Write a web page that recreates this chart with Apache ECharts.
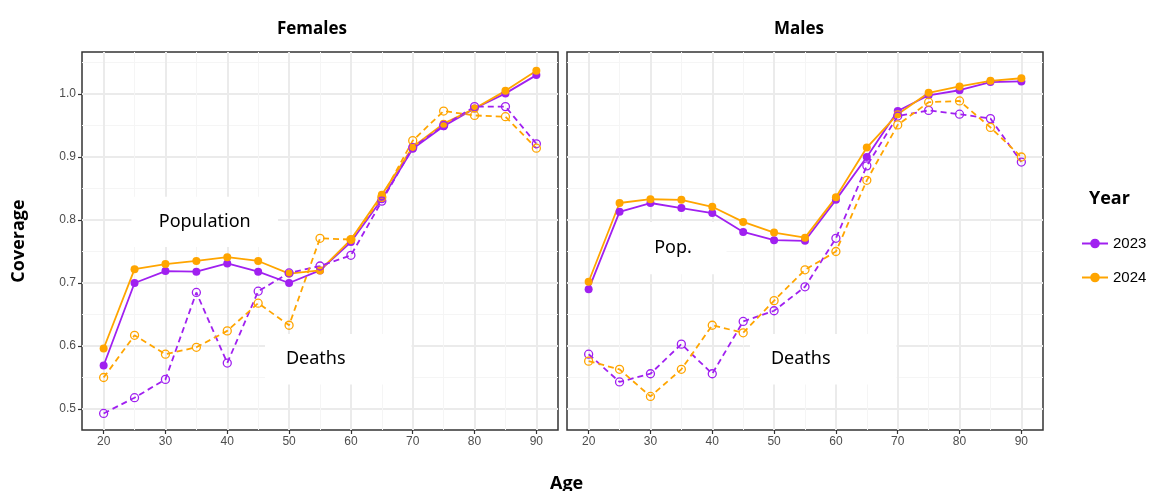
<!DOCTYPE html>
<html>
<head>
<meta charset="utf-8">
<script src="https://cdn.jsdelivr.net/npm/echarts@6/dist/echarts.min.js"></script>
<style>
  html, body { margin: 0; padding: 0; background: #ffffff; }
  #chart { width: 1150px; height: 491px; }
</style>
</head>
<body>
<div id="chart"></div>
<script>
// 数据
const ages = [20, 25, 30, 35, 40, 45, 50, 55, 60, 65, 70, 75, 80, 85, 90]
const xMajorTicks = [20, 30, 40, 50, 60, 70, 80, 90]
const xMinorTicks = [25, 35, 45, 55, 65, 75, 85]
const yMajorTicks = [0.5, 0.6, 0.7, 0.8, 0.9, 1.0]
const yMinorTicks = [0.55, 0.65, 0.75, 0.85, 0.95, 1.05]

const femPop2023 = [0.569, 0.700, 0.719, 0.718, 0.731, 0.718, 0.700, 0.720, 0.765, 0.833, 0.913, 0.949, 0.977, 1.001, 1.030]
const femPop2024 = [0.596, 0.722, 0.730, 0.735, 0.741, 0.735, 0.715, 0.720, 0.769, 0.840, 0.916, 0.953, 0.977, 1.005, 1.037]
const femDeaths2023 = [0.493, 0.518, 0.547, 0.685, 0.573, 0.687, 0.716, 0.727, 0.744, 0.830, 0.915, 0.950, 0.980, 0.980, 0.921]
const femDeaths2024 = [0.550, 0.617, 0.587, 0.598, 0.624, 0.668, 0.633, 0.771, 0.769, 0.836, 0.926, 0.973, 0.966, 0.964, 0.914]

const malePop2023 = [0.690, 0.813, 0.827, 0.819, 0.811, 0.781, 0.768, 0.767, 0.832, 0.900, 0.973, 0.998, 1.006, 1.019, 1.020]
const malePop2024 = [0.702, 0.827, 0.833, 0.832, 0.821, 0.797, 0.780, 0.772, 0.836, 0.915, 0.968, 1.002, 1.012, 1.021, 1.025]
const maleDeaths2023 = [0.587, 0.543, 0.556, 0.603, 0.556, 0.639, 0.656, 0.694, 0.771, 0.886, 0.965, 0.974, 0.968, 0.961, 0.892]
const maleDeaths2024 = [0.576, 0.563, 0.520, 0.563, 0.633, 0.621, 0.672, 0.721, 0.750, 0.863, 0.951, 0.987, 0.989, 0.947, 0.900]

// 标注框 [x0, y0, x1, y1]（数据坐标）
const femLabels = [
  { text: 'Population', box: [24.5, 0.837, 48.2, 0.757], centered: true },
  { text: 'Deaths', box: [46.1, 0.619, 69.8, 0.539], centered: false },
]
const maleLabels = [
  { text: 'Pop.', box: [25.0, 0.797, 42.3, 0.714], centered: true },
  { text: 'Deaths', box: [46.1, 0.619, 69.8, 0.539], centered: false },
]

// 颜色
const COLORS = {
  y2023: '#a020f0',
  y2024: '#ffa500',
  major: '#ebebeb',
  minor: '#f5f5f5',
  border: '#333333',
  axisText: '#4d4d4d',
  text: '#000000',
}

const X_MIN = 16.5
const X_MAX = 93.5
const Y_MIN = 0.4667
const Y_MAX = 1.0667

const zip = (vals) => ages.map((a, i) => [a, vals[i]])

const boldText = (size) => ({ fontFamily: 'Open Sans', fontWeight: 'bold', fontSize: size, color: COLORS.text })

const makeXAxes = (gridIndex) => [
  {
    type: 'value', gridIndex, min: X_MIN, max: X_MAX,
    axisLine: { show: false },
    axisTick: { show: true, customValues: xMajorTicks, length: 4, lineStyle: { color: COLORS.border, width: 1.2 } },
    axisLabel: { customValues: xMajorTicks, color: COLORS.axisText, fontFamily: 'Liberation Sans', fontSize: 12, margin: 6 },
    splitLine: { show: true, lineStyle: { color: COLORS.major, width: 2 } },
  },
  {
    type: 'value', gridIndex, min: X_MIN, max: X_MAX,
    axisLine: { show: false },
    axisTick: { show: false, customValues: xMinorTicks },
    axisLabel: { show: false },
    splitLine: { show: true, lineStyle: { color: COLORS.minor, width: 1 } },
  },
]

const makeYAxes = (gridIndex, showLabels) => [
  {
    type: 'value', gridIndex, min: Y_MIN, max: Y_MAX,
    axisLine: { show: false },
    axisTick: { show: showLabels, customValues: yMajorTicks, length: 4, lineStyle: { color: COLORS.border, width: 1.2 } },
    axisLabel: {
      show: showLabels, customValues: yMajorTicks, color: COLORS.axisText,
      fontFamily: 'Liberation Sans', fontSize: 12, margin: 6,
      formatter: (v) => v.toFixed(1),
    },
    splitLine: { show: true, lineStyle: { color: COLORS.major, width: 2 } },
    name: showLabels ? 'Coverage' : '',
    nameLocation: 'middle',
    nameGap: 54,
    nameRotate: 90,
    nameTextStyle: boldText(18),
  },
  {
    type: 'value', gridIndex, min: Y_MIN, max: Y_MAX,
    axisLine: { show: false },
    axisTick: { show: false, customValues: yMinorTicks },
    axisLabel: { show: false },
    splitLine: { show: true, lineStyle: { color: COLORS.minor, width: 1 } },
  },
]

// 折线系列
const lineSeries = (name, vals, axisIdx, dashed) => {
  const color = name === '2023' ? COLORS.y2023 : COLORS.y2024
  return {
    name,
    type: 'line',
    xAxisIndex: axisIdx,
    yAxisIndex: axisIdx,
    data: zip(vals),
    z: 3,
    symbol: 'circle',
    symbolSize: 8,
    lineStyle: { color, width: 1.8, type: dashed ? [6, 4] : 'solid' },
    itemStyle: dashed
      ? { color: 'rgba(255,255,255,0)', borderColor: color, borderWidth: 1.3 }
      : { color, borderColor: color, borderWidth: 0 },
    emphasis: { disabled: true },
    animation: false,
  }
}

// 白色标注框
const labelSeries = (labels, axisIdx) => ({
  type: 'line',
  xAxisIndex: axisIdx,
  yAxisIndex: axisIdx,
  data: [],
  z: 1,
  silent: true,
  markArea: {
    silent: true,
    itemStyle: { color: '#ffffff', opacity: 1 },
    data: labels.map((l) => [
      {
        coord: [l.box[0], l.box[1]],
        label: {
          show: true,
          formatter: l.text,
          position: l.centered ? 'inside' : [21, '50%'],
          verticalAlign: 'middle',
          align: l.centered ? 'center' : 'left',
          fontFamily: 'Noto Sans',
          fontSize: 18,
          color: COLORS.text,
        },
      },
      { coord: [l.box[2], l.box[3]] },
    ]),
  },
})

const chart = echarts.init(document.getElementById('chart'), null, { renderer: 'canvas' })

chart.setOption({
  animation: false,
  backgroundColor: '#ffffff',
  title: [
    { text: 'Females', left: 272, top: 16, textStyle: boldText(17) },
    { text: 'Males', left: 769, top: 16, textStyle: boldText(17) },
    { text: 'Year', left: 1084, top: 185, textStyle: boldText(18) },
    { text: 'Age', left: 545, top: 470, textStyle: boldText(18) },
  ],
  legend: {
    orient: 'vertical',
    left: 1076,
    top: 231,
    itemWidth: 26,
    itemHeight: 12,
    itemGap: 19,
    data: ['2023', '2024'],
    selectedMode: false,
    textStyle: { fontFamily: 'Liberation Sans', fontSize: 15, color: COLORS.text },
  },
  grid: [
    { left: 82, right: 592, top: 52, bottom: 61, show: true, borderColor: COLORS.border, borderWidth: 1.5, backgroundColor: '#ffffff' },
    { left: 567, right: 107, top: 52, bottom: 61, show: true, borderColor: COLORS.border, borderWidth: 1.5, backgroundColor: '#ffffff' },
  ],
  xAxis: [...makeXAxes(0), ...makeXAxes(1)],
  yAxis: [...makeYAxes(0, true), ...makeYAxes(1, false)],
  series: [
    lineSeries('2023', femPop2023, 0, false),
    lineSeries('2024', femPop2024, 0, false),
    labelSeries(femLabels, 0),
    lineSeries('2023', femDeaths2023, 0, true),
    lineSeries('2024', femDeaths2024, 0, true),
    labelSeries(maleLabels, 2),
    lineSeries('2023', malePop2023, 2, false),
    lineSeries('2024', malePop2024, 2, false),
    lineSeries('2023', maleDeaths2023, 2, true),
    lineSeries('2024', maleDeaths2024, 2, true),
  ],
})
</script>
</body>
</html>
